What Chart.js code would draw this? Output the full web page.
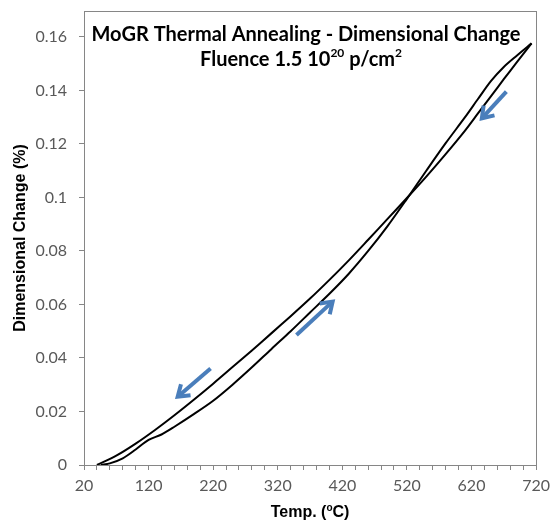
<!DOCTYPE html>
<html>
<head>
<meta charset="utf-8">
<script src="https://cdn.jsdelivr.net/npm/chart.js@4"></script>
<style>
  html, body { margin: 0; padding: 0; background: #fff; }
</style>
</head>
<body>
<canvas id="chart" width="556" height="526"></canvas>
<script>
// heating run (lower branch at low temperature)
const heatTemp   = [46, 60, 80, 100, 120, 140, 160, 190, 220, 250, 280, 310, 340, 370, 400, 430, 460, 490, 520, 550, 580, 610, 630, 650, 670, 690, 713];
const heatChange = [0, 0.0006, 0.0025, 0.0058, 0.0094, 0.0114, 0.0143, 0.0190, 0.0240, 0.0300, 0.0365, 0.0433, 0.0500, 0.0570, 0.0640, 0.0715, 0.0800, 0.0893, 0.0995, 0.1100, 0.1203, 0.1300, 0.1368, 0.1435, 0.1488, 0.1530, 0.1576];
// cooling run (back down from 713 C)
const coolTemp   = [713, 690, 670, 650, 630, 610, 580, 550, 520, 490, 460, 430, 400, 370, 340, 310, 280, 250, 220, 190, 160, 130, 100, 70, 40];
const coolChange = [0.1576, 0.1505, 0.1442, 0.1378, 0.1314, 0.1250, 0.1162, 0.1078, 0.0998, 0.0920, 0.0842, 0.0765, 0.0692, 0.0622, 0.0556, 0.0492, 0.0428, 0.0366, 0.0304, 0.0244, 0.0186, 0.0131, 0.0080, 0.0035, 0];

const xLabels = [20, 120, 220, 320, 420, 520, 620, 720];
const yLabels = [0, 0.02, 0.04, 0.06, 0.08, 0.1, 0.12, 0.14, 0.16];

// blue direction arrows, [temp, change] of tail and tip
const arrowFrom = [[216, 0.0361], [349, 0.0486], [674, 0.1396]];
const arrowTo   = [[165, 0.0255], [405, 0.0611], [636, 0.1296]];

const titleLine1 = "MoGR Thermal Annealing - Dimensional Change";
const titleLine2 = [["Fluence 1.5 10", false], ["20", true], [" p/cm", false], ["2", true]];
const xTitle = [["Temp. (", false], ["o", true], ["C)", false]];

const toPts = (xs, ys) => xs.map((x, i) => ({ x: x, y: ys[i] }));

function drawRich(ctx, parts, cx, cy, size, family) {
  const big = "bold " + size + "px " + family;
  const small = "bold " + Math.round(size * 0.62) + "px " + family;
  let w = 0;
  parts.forEach(p => { ctx.font = p[1] ? small : big; w += ctx.measureText(p[0]).width; });
  let x = cx - w / 2;
  ctx.textAlign = "left";
  ctx.textBaseline = "middle";
  parts.forEach(p => {
    ctx.font = p[1] ? small : big;
    ctx.fillText(p[0], x, p[1] ? cy - size * 0.32 : cy);
    x += ctx.measureText(p[0]).width;
  });
}

const decor = {
  id: "decor",
  afterDatasetsDraw(chart) {
    const ctx = chart.ctx, xs = chart.scales.x, ys = chart.scales.y;
    ctx.save();
    ctx.strokeStyle = "#4a7ebb";
    ctx.lineWidth = 4;
    ctx.lineJoin = "miter";
    arrowFrom.forEach((a, i) => {
      const x1 = xs.getPixelForValue(a[0]), y1 = ys.getPixelForValue(a[1]);
      const x2 = xs.getPixelForValue(arrowTo[i][0]), y2 = ys.getPixelForValue(arrowTo[i][1]);
      const ang = Math.atan2(y2 - y1, x2 - x1), hl = 13;
      ctx.beginPath();
      ctx.moveTo(x1, y1);
      ctx.lineTo(x2 - Math.cos(ang) * 2, y2 - Math.sin(ang) * 2);
      ctx.stroke();
      ctx.beginPath();
      ctx.moveTo(x2 - hl * Math.cos(ang - 0.6), y2 - hl * Math.sin(ang - 0.6));
      ctx.lineTo(x2, y2);
      ctx.lineTo(x2 - hl * Math.cos(ang + 0.6), y2 - hl * Math.sin(ang + 0.6));
      ctx.stroke();
    });
    ctx.restore();
  },
  afterDraw(chart) {
    const ctx = chart.ctx, a = chart.chartArea;
    ctx.save();
    ctx.strokeStyle = "#868686";
    ctx.lineWidth = 1;
    ctx.strokeRect(Math.round(a.left) + 0.5, Math.round(a.top) + 0.5, Math.round(a.right - a.left), Math.round(a.bottom - a.top));
    ctx.fillStyle = "#000";
    ctx.font = "bold 20px Lato";
    ctx.textAlign = "center";
    ctx.textBaseline = "middle";
    ctx.fillText(titleLine1, 306, 35);
    drawRich(ctx, titleLine2, 301, 60, 20, "Lato");
    drawRich(ctx, xTitle, (a.left + a.right) / 2, 513, 16, "'Liberation Sans'");
    ctx.restore();
  }
};

const tickFont = { family: "Lato", size: 16 };

new Chart(document.getElementById("chart"), {
  type: "scatter",
  data: {
    datasets: [
      { label: "Heating", data: toPts(heatTemp, heatChange), showLine: true, borderColor: "#000", borderWidth: 2, pointRadius: 0, tension: 0.3 },
      { label: "Cooling", data: toPts(coolTemp, coolChange), showLine: true, borderColor: "#000", borderWidth: 2, pointRadius: 0, tension: 0.3 }
    ]
  },
  options: {
    responsive: false,
    animation: false,
    layout: { padding: { top: 11, right: 16, left: 0, bottom: 0 } },
    plugins: { legend: { display: false }, tooltip: { enabled: false } },
    scales: {
      x: {
        type: "linear", min: 20, max: 720,
        afterFit: s => { s.height = 61; },
        ticks: {
          stepSize: 20, autoSkip: false, maxRotation: 0, padding: 6,
          color: "#595959", font: tickFont,
          callback: v => xLabels.includes(v) ? String(v) : ""
        },
        grid: { drawOnChartArea: false, tickLength: 5, color: "#868686" },
        border: { color: "#868686" }
      },
      y: {
        min: 0, max: 0.1697,
        afterFit: s => { s.width = 84; s.paddingTop = 0; s.paddingBottom = 0; },
        ticks: {
          stepSize: 0.02, includeBounds: false, padding: 12,
          color: "#595959", font: tickFont,
          callback: v => yLabels.some(t => Math.abs(t - v) < 1e-9) ? String(+v.toFixed(2)) : ""
        },
        grid: { drawOnChartArea: false, tickLength: 5, color: "#868686" },
        border: { color: "#868686" },
        title: {
          display: true, text: "Dimensional Change (%)", color: "#000",
          font: { family: "'Liberation Sans'", weight: "bold", size: 16 },
          padding: { top: 11, bottom: 0 }
        }
      }
    }
  },
  plugins: [decor]
});
</script>
</body>
</html>
